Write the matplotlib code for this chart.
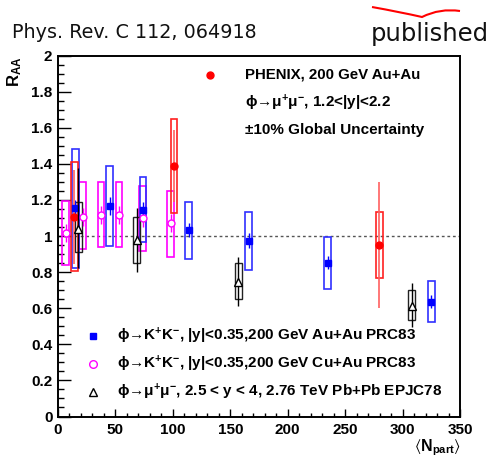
import matplotlib
matplotlib.use("Agg")
import matplotlib.pyplot as plt
from matplotlib.patches import Rectangle
from matplotlib.ticker import MultipleLocator
from matplotlib.path import Path
from matplotlib.patches import PathPatch
import numpy as np

plt.rcParams['font.family'] = ['Liberation Sans', 'DejaVu Sans']
plt.rcParams['mathtext.default'] = 'regular'

# Au+Au K+K- (PHENIX PRC83)
auau_x = [15, 45, 74, 114, 166, 235, 325]
auau_y = [1.153, 1.166, 1.144, 1.033, 0.974, 0.852, 0.636]
auau_stat = [0.045, 0.05, 0.045, 0.04, 0.04, 0.035, 0.035]
auau_syst_hi = [1.48, 1.39, 1.325, 1.19, 1.133, 0.996, 0.752]
auau_syst_lo = [0.82, 0.945, 0.968, 0.873, 0.81, 0.708, 0.524]

# Cu+Au K+K- (PHENIX PRC83)
cuau_x = [6.7, 21.5, 37.4, 53.1, 73.7, 98.1]
cuau_y = [1.015, 1.107, 1.116, 1.116, 1.098, 1.07]
cuau_stat = [0.05, 0.05, 0.05, 0.05, 0.05, 0.05]
cuau_syst_hi = [1.195, 1.297, 1.297, 1.297, 1.279, 1.251]
cuau_syst_lo = [0.84, 0.926, 0.937, 0.937, 0.915, 0.885]

# PHENIX mu+mu-, 1.2<|y|<2.2
phx_x = [14.2, 101, 279.7]
phx_y = [1.107, 1.388, 0.95]
phx_stat = [0.26, 0.2, 0.35]
phx_syst_hi = [1.408, 1.65, 1.131]
phx_syst_lo = [0.804, 1.126, 0.769]

# ALICE mu+mu- Pb+Pb 2.76 TeV (EPJC78)
alice_x = [17.7, 68.5, 157, 308]
alice_y = [1.04, 0.978, 0.747, 0.612]
alice_stat_hi = [1.376, 1.157, 0.885, 0.741]
alice_stat_lo = [0.822, 0.80, 0.612, 0.494]
alice_syst_hi = [1.19, 1.107, 0.849, 0.70]
alice_syst_lo = [0.91, 0.848, 0.651, 0.535]

box_half = 3.0

fig = plt.figure(figsize=(4.93, 4.59), dpi=100)
ax = fig.add_axes([58/493, 1-416.5/459, (460-58)/493, (416.5-55.5)/459])
ax.set_xlim(0, 350)
ax.set_ylim(0, 2)

ax.axhline(1.0, color='#555555', ls=(0, (2, 2)), lw=1.0, zorder=1)

def boxes(xs, lo, hi, color, lw=1.2):
    for x, l, h in zip(xs, lo, hi):
        ax.add_patch(Rectangle((x-box_half, l), 2*box_half, h-l, fill=False,
                               edgecolor=color, lw=lw, zorder=2))

# magenta
boxes(cuau_x, cuau_syst_lo, cuau_syst_hi, '#ff00ff')
ax.errorbar(cuau_x, cuau_y, yerr=cuau_stat, fmt='o', ms=5, mfc='white', mew=1.0,
            mec='#ff00ff', ecolor='#ff00ff', elinewidth=1, capsize=0, zorder=4)
# blue
boxes(auau_x, auau_syst_lo, auau_syst_hi, '#3030ff')
ax.errorbar(auau_x, auau_y, yerr=auau_stat, fmt='s', ms=4.8, mfc='#0000ff',
            mec='#0000ff', ecolor='#0000ff', elinewidth=1, capsize=0, zorder=4)
# red
boxes(phx_x, phx_syst_lo, phx_syst_hi, '#ff2020')
ax.errorbar(phx_x, phx_y, yerr=phx_stat, fmt='o', ms=5, mfc='#ff0000',
            mec='#ff0000', ecolor='#ff6060', elinewidth=1.2, capsize=0, zorder=4)
# black
boxes(alice_x, alice_syst_lo, alice_syst_hi, '#222222', lw=1.0)
ay = np.array(alice_y)
ax.errorbar(alice_x, alice_y,
            yerr=[ay-np.array(alice_stat_lo), np.array(alice_stat_hi)-ay],
            fmt='^', ms=5.5, mfc='white', mec='black', mew=1.0, ecolor='black',
            elinewidth=1, capsize=0, zorder=5)

# axes style
ax.xaxis.set_major_locator(MultipleLocator(50))
ax.xaxis.set_minor_locator(MultipleLocator(10))
ax.yaxis.set_major_locator(MultipleLocator(0.2))
ax.yaxis.set_minor_locator(MultipleLocator(0.05))
ax.tick_params(which='both', direction='in', top=False, right=False, width=1)
ax.tick_params(axis='x', which='major', length=5.5, labelsize=11, pad=5)
ax.tick_params(axis='x', which='minor', length=3)
ax.tick_params(axis='y', which='major', length=9, labelsize=11, pad=4)
ax.tick_params(axis='y', which='minor', length=4.5)
ax.set_yticks(np.arange(0, 2.01, 0.2))
ax.set_yticklabels(['0', '0.2', '0.4', '0.6', '0.8', '1', '1.2', '1.4', '1.6', '1.8', '2'])
for lab in ax.get_xticklabels() + ax.get_yticklabels():
    lab.set_fontweight('bold')
for s in ax.spines.values():
    s.set_linewidth(1.4)

# upper legend
ax.plot([132], [1.892], 'o', color='#ff0000', ms=5)
ax.text(163.0, 1.892, 'PHENIX, 200 GeV Au+Au', fontsize=10.8, fontweight='bold', va='center')
ax.text(163.0, 1.737, 'ϕ→μ$^{+}$μ$^{-}$, 1.2<|y|<2.2', fontsize=11,
        fontweight='bold', va='center')
ax.text(163.0, 1.587, '±10% Global Uncertainty', fontsize=11, fontweight='bold', va='center')

# lower legend
ax.plot([30.5], [0.446], 's', color='#0000ff', ms=5)
ax.plot([30.5], [0.291], 'o', mfc='white', mec='#ff00ff', ms=5.5)
ax.plot([30.5], [0.136], '^', mfc='white', mec='black', ms=5.5)
ax.text(51.4, 0.446, 'ϕ→K$^{+}$K$^{-}$, |y|<0.35,200 GeV Au+Au PRC83',
        fontsize=11, fontweight='bold', va='center')
ax.text(51.4, 0.291, 'ϕ→K$^{+}$K$^{-}$, |y|<0.35,200 GeV Cu+Au PRC83',
        fontsize=11, fontweight='bold', va='center')
ax.text(51.4, 0.136, 'ϕ→μ$^{+}$μ$^{-}$, 2.5 < y < 4, 2.76 TeV Pb+Pb EPJC78',
        fontsize=11, fontweight='bold', va='center')

# axis labels
fig.text(15/493, 1-56/459, r'R$_{AA}$', rotation=90, ha='center', va='top',
         fontsize=12, fontweight='bold')
fig.text(461/493, 1-458.5/459, r'$\langle$N$_{part}\rangle$', ha='right', va='bottom',
         fontsize=11.5, fontweight='bold')

# header
fig.text(12/493, 1-33/459, 'Phys. Rev. C 112, 064918', fontsize=13.8,
         family='DejaVu Sans', va='center', ha='left', color='#111111')
fig.text(489/493, 1-34/459, 'published', fontsize=17.5, family='DejaVu Sans',
         va='center', ha='right', color='#111111')
verts = [(372/493, 1-7/459), (400/493, 1-12/459), (422/493, 1-17/459),
         (440/493, 1-8/459), (460/493, 1-11/459)]
codes = [Path.MOVETO, Path.CURVE3, Path.CURVE3, Path.CURVE3, Path.CURVE3]
fig.patches.append(PathPatch(Path(verts, codes), transform=fig.transFigure,
                             fill=False, edgecolor='#ff0000', lw=1.5))

fig.savefig('out.png', dpi=100)
